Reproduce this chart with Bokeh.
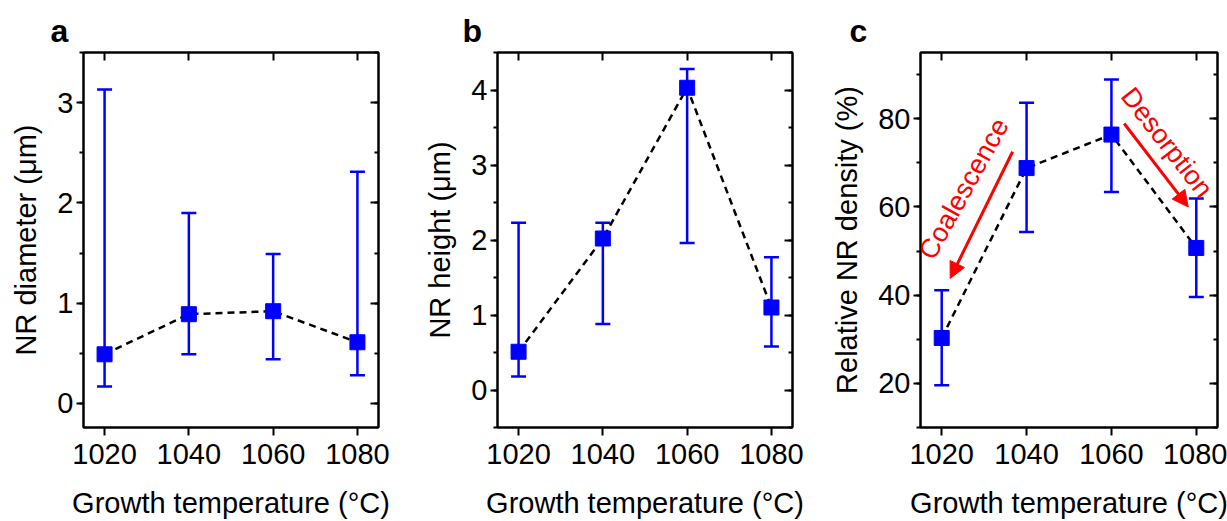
import math
from bokeh.plotting import figure
from bokeh.models import (Range1d, LinearAxis, FixedTicker, ColumnDataSource,
                          Whisker, TeeHead, Arrow, NormalHead, Label)
from bokeh.layouts import row
from bokeh.embed import file_html
from bokeh.resources import INLINE

# ---------------- data ----------------
temps = [1020, 1040, 1060, 1080]
temp_ticks = [1020, 1040, 1060, 1080]

diam = [0.49, 0.89, 0.92, 0.61]
diam_hi = [3.13, 1.90, 1.49, 2.31]
diam_lo = [0.17, 0.49, 0.44, 0.28]

height = [0.51, 2.02, 4.03, 1.10]
height_hi = [2.23, 2.23, 4.28, 1.77]
height_lo = [0.18, 0.88, 1.96, 0.58]

dens = [30.3, 68.8, 76.4, 50.7]
dens_hi = [41.1, 83.6, 88.9, 61.9]
dens_lo = [19.6, 54.3, 63.4, 39.6]

# annotation arrows (panel c), data coordinates
coal_arrow = [1036.7, 72.5, 1022.0, 43.8]
desor_arrow = [1063.0, 78.9, 1078.1, 60.0]
coal_text = ["Coalescence", 1025.2, 64.1, 61]
desor_text = ["Desorption", 1073.1, 74.6, -52]

FONT = "Liberation Sans"
BLUE = "#0000ff"
RED = "#ff0000"
X_RANGE = (1015, 1085)


def make_panel(letter, yvals, hi, lo, ylabel, yrange, yticks, minor_n,
               b_left, b_right, f_width, letter_dx):
    p = figure(frame_width=f_width, frame_height=375,
               min_border_left=b_left, min_border_right=b_right,
               min_border_top=52, min_border_bottom=92,
               x_range=Range1d(*X_RANGE), y_range=Range1d(*yrange),
               toolbar_location=None, output_backend="svg",
               x_axis_location=None, y_axis_location=None)
    p.title.text = letter
    p.title.text_font = FONT
    p.title.text_font_size = "32px"
    p.title.text_font_style = "bold"
    p.title.text_color = "black"
    p.title.align = "left"
    p.title.offset = letter_dx
    p.title.standoff = 7
    p.background_fill_color = "white"
    p.border_fill_color = "white"
    p.outline_line_color = "black"
    p.outline_line_width = 2
    p.xgrid.visible = False
    p.ygrid.visible = False

    def style(ax):
        ax.axis_line_color = "black"
        ax.axis_line_width = 2
        ax.major_tick_line_width = 2
        ax.minor_tick_line_width = 2
        ax.major_tick_line_color = "black"
        ax.minor_tick_line_color = "black"
        ax.major_label_text_font = FONT
        ax.major_label_text_font_size = "29px"
        ax.major_label_text_color = "black"
        ax.axis_label_text_font = FONT
        ax.axis_label_text_font_size = "29px"
        ax.axis_label_text_font_style = "normal"
        ax.axis_label_text_color = "black"

    # bottom
    bx = LinearAxis(ticker=FixedTicker(ticks=temp_ticks),
                    axis_label="Growth temperature (°C)")
    style(bx)
    bx.major_tick_out = 8
    bx.major_tick_in = 0
    bx.minor_tick_line_color = None
    bx.major_label_standoff = 8
    bx.axis_label_standoff = 20
    p.add_layout(bx, "below")

    # top
    tx = LinearAxis(ticker=FixedTicker(ticks=temp_ticks))
    style(tx)
    tx.major_tick_out = 0
    tx.major_tick_in = 8
    tx.minor_tick_line_color = None
    tx.major_label_text_font_size = "0px"
    tx.major_label_standoff = 0
    p.add_layout(tx, "above")

    step = yticks[1] - yticks[0]
    minors = [yticks[0] - step + k * step / minor_n
              for k in range((len(yticks) + 1) * minor_n + 1)]
    # left
    ly = LinearAxis(ticker=FixedTicker(ticks=yticks, minor_ticks=minors),
                    axis_label=ylabel)
    style(ly)
    ly.major_tick_out = 7
    ly.major_tick_in = 0
    ly.minor_tick_out = 4
    ly.minor_tick_in = 0
    ly.major_label_standoff = 3
    ly.axis_label_standoff = 12
    p.add_layout(ly, "left")

    # right
    ry = LinearAxis(ticker=FixedTicker(ticks=yticks, minor_ticks=minors))
    style(ry)
    ry.major_tick_out = 0
    ry.major_tick_in = 8
    ry.minor_tick_out = 0
    ry.minor_tick_in = 4
    ry.major_label_text_font_size = "0px"
    ry.major_label_standoff = 0
    p.add_layout(ry, "right")

    src = ColumnDataSource(dict(x=temps, y=yvals, hi=hi, lo=lo))
    p.line("x", "y", source=src, line_color="black", line_width=2.5,
           line_dash="7 5")
    w = Whisker(source=src, base="x", upper="hi", lower="lo",
                dimension="height", line_color=BLUE, line_width=2.5,
                upper_head=TeeHead(size=15, line_color=BLUE, line_width=2.5),
                lower_head=TeeHead(size=15, line_color=BLUE, line_width=2.5))
    p.add_layout(w)
    p.scatter("x", "y", source=src, marker="square", size=15,
              fill_color=BLUE, line_color=BLUE)
    return p


pa = make_panel("a", diam, diam_hi, diam_lo, "NR diameter (μm)",
                (-0.24, 3.5), [0, 1, 2, 3], 2, 83, 40, 295, -33)
pb = make_panel("b", height, height_hi, height_lo, "NR height (μm)",
                (-0.5, 4.5), [0, 1, 2, 3, 4], 2, 79, 36, 295, -35)
pc = make_panel("c", dens, dens_hi, dens_lo, "Relative NR density (%)",
                (10, 95), [20, 40, 60, 80], 2, 90, 10, 297, -71)

for arr in (coal_arrow, desor_arrow):
    pc.add_layout(Arrow(x_start=arr[0], y_start=arr[1], x_end=arr[2], y_end=arr[3],
                        line_color=RED, line_width=3,
                        end=NormalHead(size=16, fill_color=RED, line_color=RED)))
for t in (coal_text, desor_text):
    pc.add_layout(Label(x=t[1], y=t[2], text=t[0], angle=math.radians(t[3]),
                        text_font=FONT, text_font_size="27px", text_color=RED,
                        text_align="center", text_baseline="middle"))

layout = row(pa, pb, pc, spacing=0)
open("out.html", "w").write(file_html(layout, INLINE))
